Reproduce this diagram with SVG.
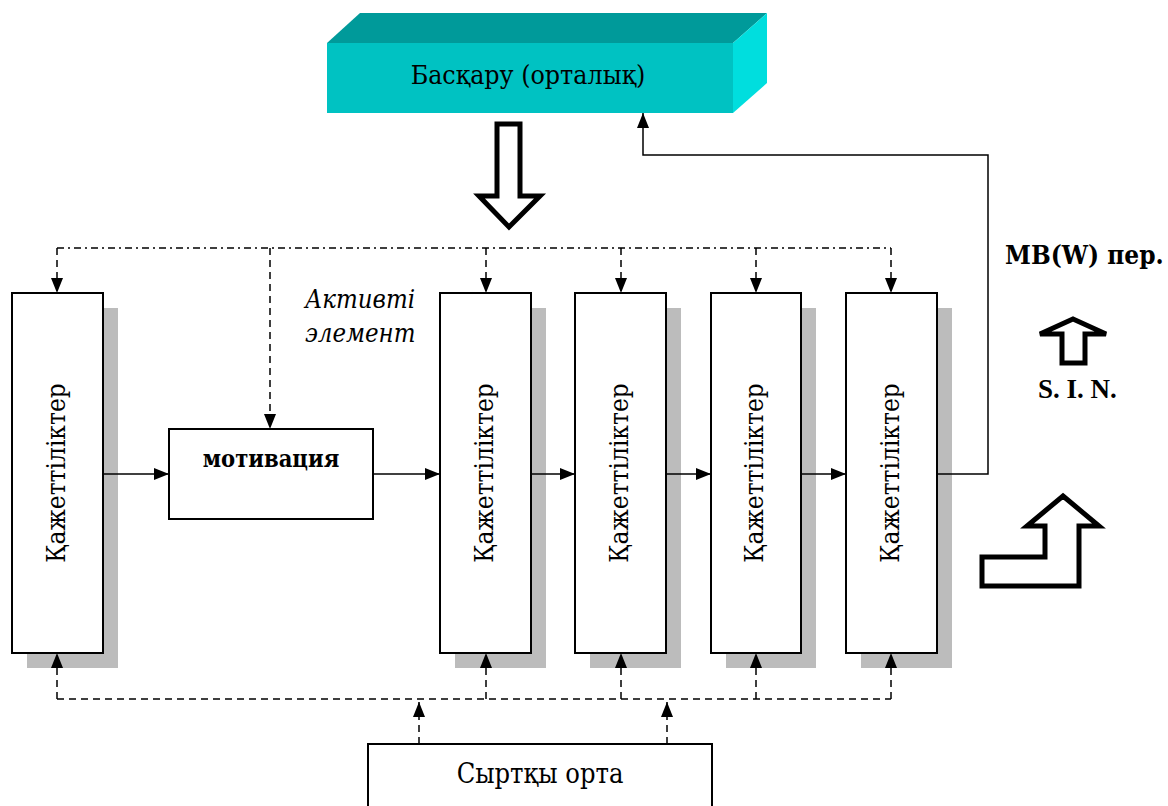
<svg xmlns="http://www.w3.org/2000/svg" width="1168" height="806" viewBox="0 0 1168 806">
<style>
  text { font-family: "DejaVu Serif Condensed", "DejaVu Serif", serif; fill: #000; }
  .lat { font-family: "Liberation Serif", "DejaVu Serif", serif; }
  .box { fill: #fff; stroke: #000; stroke-width: 2; }
  .shadow { fill: #bcbcbc; }
  .vt { font-size: 26px; text-anchor: middle; }
  .conn { fill: none; stroke: #000; stroke-width: 1.5; }
  .dashdot { stroke-dasharray: 7 4 2 4; }
  .dash { stroke-dasharray: 7 5; }
  .hollow { fill: #fff; stroke: #000; stroke-width: 5; stroke-linejoin: miter; }
</style>
<defs>
  <marker id="ah" viewBox="0 0 15 12" refX="15" refY="6" markerWidth="15" markerHeight="12" markerUnits="userSpaceOnUse" orient="auto">
    <path d="M0,0 L15,6 L0,12 z" fill="#000"/>
  </marker>
</defs>
<rect width="1168" height="806" fill="#fff"/>

<g id="control">
  <polygon points="327,43 360,13 767,13 733,43" fill="#009a9a"/>
  <polygon points="733,43 767,13 767,83 733,113" fill="#00dede"/>
  <rect x="327" y="43" width="406" height="70" fill="#00c2c2"/>
  <text x="528" y="84" font-size="26.5" text-anchor="middle">Басқару (орталық)</text>
</g>

<g id="big-down-arrow">
  <polygon class="hollow" points="497,124 520,124 520,196 540,196 509,227 479,196 497,196"/>
</g>

<g id="need1">
  <rect class="shadow" x="27" y="308" width="91" height="360"/>
  <rect class="box" x="12" y="293" width="91" height="360"/>
  <text class="vt" transform="translate(65,473) rotate(-90)">Қажеттіліктер</text>
</g>
<g id="motivation">
  <rect class="box" x="169" y="429" width="204" height="90"/>
  <text x="271" y="467" font-size="23.5" font-weight="bold" text-anchor="middle">мотивация</text>
</g>
<g id="active-label">
  <text x="305" y="308" font-size="25.5" font-style="italic">Активті</text>
  <text x="305" y="342" font-size="25.5" font-style="italic">элемент</text>
</g>
<g id="need2">
  <rect class="shadow" x="455" y="308" width="91" height="360"/>
  <rect class="box" x="440" y="293" width="91" height="360"/>
  <text class="vt" transform="translate(493,473) rotate(-90)">Қажеттіліктер</text>
</g>
<g id="need3">
  <rect class="shadow" x="590" y="308" width="91" height="360"/>
  <rect class="box" x="575" y="293" width="91" height="360"/>
  <text class="vt" transform="translate(628,473) rotate(-90)">Қажеттіліктер</text>
</g>
<g id="need4">
  <rect class="shadow" x="726" y="308" width="90" height="360"/>
  <rect class="box" x="711" y="293" width="90" height="360"/>
  <text class="vt" transform="translate(763,473) rotate(-90)">Қажеттіліктер</text>
</g>
<g id="need5">
  <rect class="shadow" x="861" y="308" width="91" height="360"/>
  <rect class="box" x="846" y="293" width="91" height="360"/>
  <text class="vt" transform="translate(899,473) rotate(-90)">Қажеттіліктер</text>
</g>
<g id="environment">
  <rect class="box" x="368" y="744" width="344" height="90"/>
  <text x="540" y="783" font-size="27" text-anchor="middle">Сыртқы орта</text>
</g>

<g id="mbw">
  <text x="1005" y="264" font-size="26" font-weight="bold">MB(W) пер.</text>
</g>
<g id="sin">
  <polygon class="hollow" points="1073,319 1106,334 1085,334 1085,363 1062,363 1062,334 1040,334"/>
  <text class="lat" x="1038" y="398" font-size="27" font-weight="bold">S. I. N.</text>
</g>
<g id="bent-arrow">
  <polygon class="hollow" points="1063,496 1099,526 1079,526 1079,586 982,586 982,557 1045,557 1045,526 1027,526"/>
</g>

<g id="connectors">
  <path class="conn dashdot" d="M57,248 H891"/>
  <path class="conn dash" d="M57,248 V293" marker-end="url(#ah)"/>
  <path class="conn dash" d="M270,248 V429" marker-end="url(#ah)"/>
  <path class="conn dash" d="M486,248 V293" marker-end="url(#ah)"/>
  <path class="conn dash" d="M621,248 V293" marker-end="url(#ah)"/>
  <path class="conn dash" d="M756,248 V293" marker-end="url(#ah)"/>
  <path class="conn dash" d="M891,248 V293" marker-end="url(#ah)"/>

  <path class="conn dash" d="M57,699 H891"/>
  <path class="conn dash" d="M57,699 V653" marker-end="url(#ah)"/>
  <path class="conn dash" d="M486,699 V653" marker-end="url(#ah)"/>
  <path class="conn dash" d="M621,699 V653" marker-end="url(#ah)"/>
  <path class="conn dash" d="M756,699 V653" marker-end="url(#ah)"/>
  <path class="conn dash" d="M891,699 V653" marker-end="url(#ah)"/>
  <path class="conn dash" d="M419,744 V702" marker-end="url(#ah)"/>
  <path class="conn dash" d="M667,744 V702" marker-end="url(#ah)"/>

  <path class="conn" d="M103,474 H169" marker-end="url(#ah)"/>
  <path class="conn" d="M373,474 H440" marker-end="url(#ah)"/>
  <path class="conn" d="M531,474 H575" marker-end="url(#ah)"/>
  <path class="conn" d="M666,474 H711" marker-end="url(#ah)"/>
  <path class="conn" d="M801,474 H846" marker-end="url(#ah)"/>
  <path class="conn" d="M937,474 H988 V155 H643 V113" marker-end="url(#ah)"/>
</g>
</svg>
